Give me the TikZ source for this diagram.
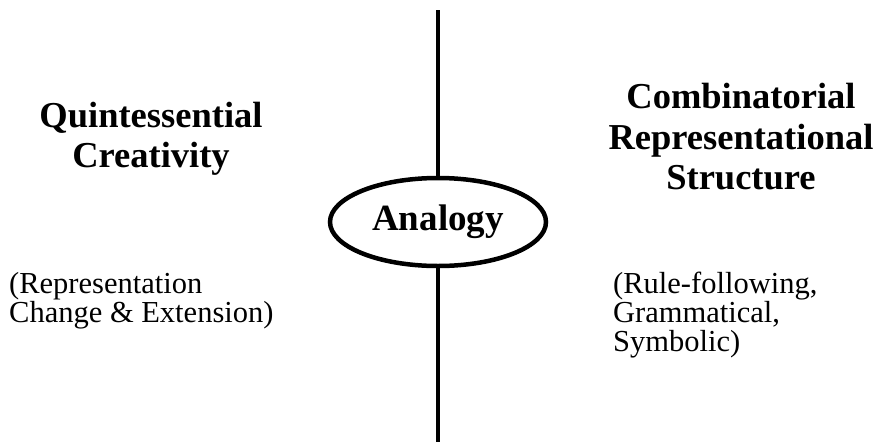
\documentclass[tikz,border=0pt]{standalone}
\usepackage{fontspec}
\setmainfont{Liberation Serif}
\usetikzlibrary{shapes.geometric}

\tikzset{
  headtext/.style={font=\fontsize{36.5}{40.5}\selectfont\bfseries, align=center, inner sep=0},
  notetext/.style={font=\fontsize{30.5}{29}\selectfont, align=left, anchor=north west, inner sep=0},
  hub/.style={ellipse, draw, line width=4.5, minimum width=216, minimum height=88, inner sep=0,
    font=\fontsize{37}{40}\selectfont\bfseries},
}

\begin{document}
\begin{tikzpicture}[x=1pt, y=-1pt]
	\useasboundingbox (0,0) rectangle (877,442);

	\node[hub] (analogy) at (438,222) {Analogy};
	\coordinate (top) at (438,10);
	\coordinate (bottom) at (438,442);
	\draw[line width=4.5] (top) -- (analogy);
	\draw[line width=4.5] (analogy) -- (bottom);

	\node[headtext] (creativity) at (151,139) {Quintessential\\Creativity};
	\node[headtext] (structure) at (741,137) {Combinatorial\\Representational\\Structure};

	\node[notetext] (change) at (9,272) {(Representation\\Change \& Extension)};
	\node[notetext] (rules) at (613,272) {(Rule-following,\\Grammatical,\\Symbolic)};
\end{tikzpicture}
\end{document}
